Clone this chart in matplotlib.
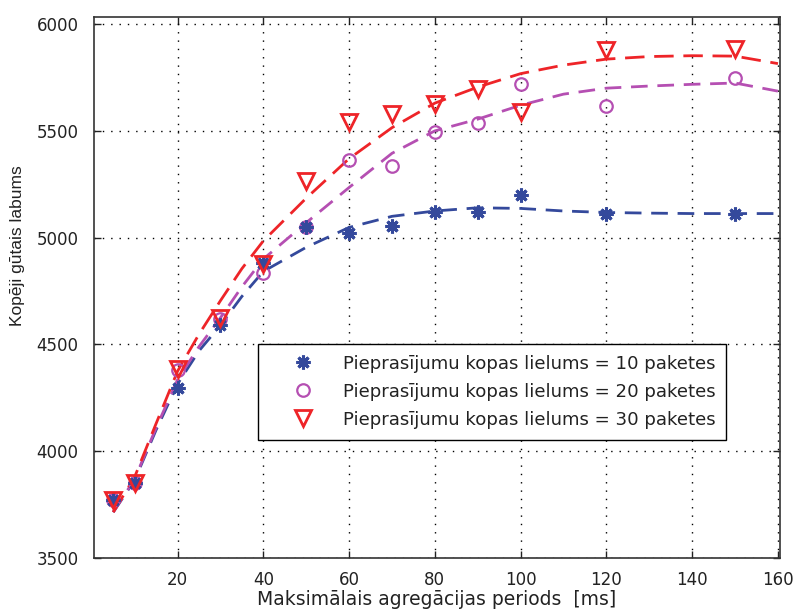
import matplotlib
matplotlib.use("Agg")
import matplotlib.pyplot as plt

plt.rcParams['font.family'] = ['DejaVu Sans']

# Measured points
periods = [5, 10, 20, 30, 40, 50, 60, 70, 80, 90, 100, 120, 150]
gain_10 = [3770, 3850, 4297, 4590, 4883, 5050, 5022, 5055, 5122, 5118, 5198, 5113, 5113]
gain_20 = [3770, 3852, 4380, 4620, 4837, 5052, 5362, 5334, 5496, 5535, 5720, 5615, 5747]
gain_30 = [3772, 3852, 4386, 4626, 4879, 5265, 5540, 5577, 5625, 5695, 5587, 5878, 5883]

# Trend curves
trend_x = [5, 10, 15, 20, 25, 30, 35, 40, 50, 60, 70, 80, 90, 100, 110, 120, 130, 140, 150, 160]
trend_10 = [3715, 3865, 4100, 4315, 4470, 4590, 4725, 4842, 4955, 5048, 5100, 5125, 5140, 5137,
            5125, 5118, 5115, 5113, 5113, 5113]
trend_20 = [3715, 3870, 4110, 4335, 4490, 4625, 4770, 4900, 5070, 5235, 5395, 5500, 5555, 5620,
            5672, 5700, 5710, 5718, 5724, 5686]
trend_30 = [3715, 3880, 4130, 4375, 4548, 4705, 4855, 4985, 5185, 5370, 5515, 5630, 5705, 5768,
            5808, 5836, 5848, 5852, 5850, 5815]

labels = ["Pieprasījumu kopas lielums = 10 paketes",
          "Pieprasījumu kopas lielums = 20 paketes",
          "Pieprasījumu kopas lielums = 30 paketes"]

c_blue = '#34499c'
c_mag = '#b54fb2'
c_red = '#ee2428'

fig = plt.figure(figsize=(7.96, 6.16), dpi=100)
ax = fig.add_axes([0.118, 0.094, 0.862, 0.878])

ax.plot(trend_x, trend_10, color=c_blue, lw=2.0, dashes=(6, 3.5), zorder=3)
ax.plot(trend_x, trend_20, color=c_mag, lw=2.0, dashes=(6, 3.5), zorder=3)
ax.plot(trend_x, trend_30, color=c_red, lw=2.0, dashes=(7, 3.5), zorder=3)

h2, = ax.plot(periods, gain_20, linestyle='none', marker='o', ms=9, mfc='none',
              mec=c_mag, mew=1.6, zorder=4)
h1, = ax.plot(periods, gain_10, linestyle='none', marker=(8, 2, 0), ms=10, mfc=c_blue,
              mec=c_blue, mew=2.2, zorder=5)
h3, = ax.plot(periods, gain_30, linestyle='none', marker='v', ms=12, mfc='none',
              mec=c_red, mew=2.0, zorder=6)

ax.set_xlim(0.5, 160.5)
ax.set_ylim(3500, 6032)
ax.set_xticks([20, 40, 60, 80, 100, 120, 140, 160])
ax.set_yticks([3500, 4000, 4500, 5000, 5500, 6000])

ax.grid(True, color='black', linestyle=(0, (1, 5)), linewidth=1.0)
ax.tick_params(direction='in', length=5, width=1.0, top=True, right=True,
               labelsize=12, colors='#222222')
ax.tick_params(axis='x', pad=9)
ax.tick_params(axis='y', pad=11)
for s in ax.spines.values():
    s.set_linewidth(1.2)
    s.set_color('#333333')

ax.set_xlabel("Maksimālais agregācijas periods  [ms]", fontsize=13.5, labelpad=1,
              color='#222222')
ax.set_ylabel("Kopēji gūtais labums", fontsize=12.5, color='#222222',
              family=['Liberation Sans', 'DejaVu Sans'])
ax.yaxis.set_label_coords(-0.1, 0.577)

leg = ax.legend([h1, h2, h3], labels, loc='upper left',
                bbox_to_anchor=(0.239, 0.396), borderaxespad=0, fontsize=13.1,
                frameon=True, fancybox=False, edgecolor='black', framealpha=1,
                labelspacing=0.55, handletextpad=0.25, borderpad=0.6, handlelength=3.8)
leg.get_frame().set_linewidth(1.0)
for t in leg.get_texts():
    t.set_color('#222222')

fig.savefig("out.png", dpi=100)
